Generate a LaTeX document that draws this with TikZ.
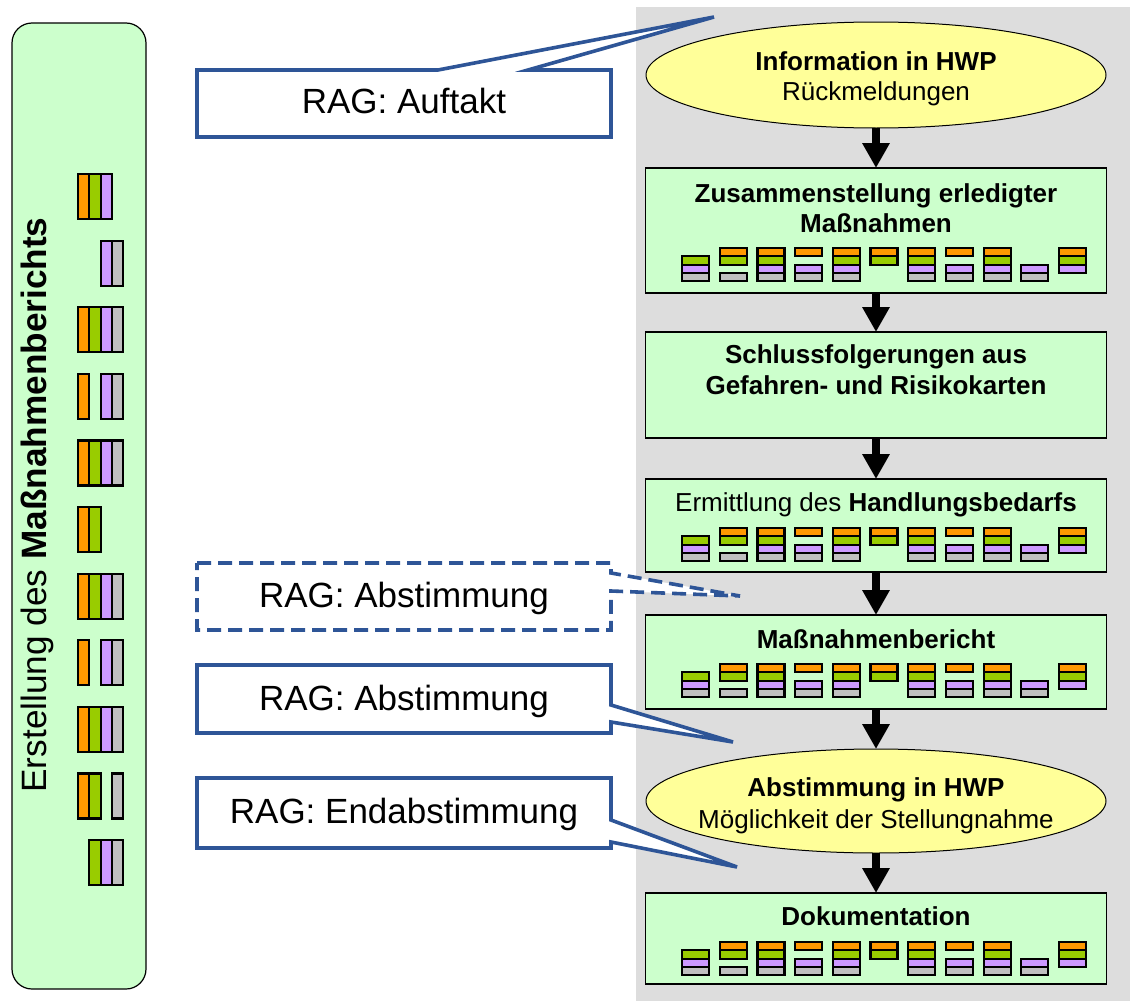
\documentclass[tikz,border=0pt]{standalone}
\usepackage{fontspec}
\setmainfont{Liberation Sans}
\usetikzlibrary{shapes.geometric,arrows.meta}
\definecolor{bggray}{HTML}{DDDDDD}
\definecolor{boxgreen}{HTML}{CCFFCC}
\definecolor{elyellow}{HTML}{FFFF99}
\definecolor{corange}{HTML}{FF9900}
\definecolor{cgreen}{HTML}{99CC00}
\definecolor{cpurple}{HTML}{CC99FF}
\definecolor{cgray}{HTML}{C0C0C0}
\definecolor{cblue}{HTML}{2E5597}
\tikzset{barc/.style={draw=black, line width=2.2pt}}
\newcommand{\hbarset}[1]{%
  \foreach \a/\b/\c/\d [count=\i from 0] in {0/1/1/1,1/1/0/1,1/1/1/1,1/0/1/1,1/1/1/1,1/1/0/0,1/1/1/1,1/0/1/1,1/1/1/1,0/0/1/1,1/1/1/0}{%
    \pgfmathsetmacro\gx{682+37.7*\i}%
    \ifnum\a=1 \draw[barc,fill=corange] (\gx,#1) rectangle ++(27,8.3);\fi
    \ifnum\b=1 \draw[barc,fill=cgreen] (\gx,#1+8.3) rectangle ++(27,8.3);\fi
    \ifnum\c=1 \draw[barc,fill=cpurple] (\gx,#1+16.6) rectangle ++(27,8.3);\fi
    \ifnum\d=1 \draw[barc,fill=cgray] (\gx,#1+24.9) rectangle ++(27,8.3);\fi
  }}
\begin{document}
\begin{tikzpicture}[x=1pt,y=-1pt,
 stepbox/.style={draw=black, line width=1.2pt, fill=boxgreen, rectangle, minimum width=461pt, inner sep=0pt, outer sep=0pt},
 hwp/.style={draw=black, line width=1pt, fill=elyellow, ellipse, minimum width=460pt, inner sep=0pt, outer sep=0pt},
 btext/.style={font=\fontsize{26}{30}\selectfont\bfseries, anchor=base, inner sep=0pt},
 ntext/.style={font=\fontsize{26}{30}\selectfont, anchor=base, inner sep=0pt},
 ctext/.style={font=\fontsize{35}{42}\selectfont, anchor=base, inner sep=0pt},
 callout/.style={draw=cblue, line width=3.6pt, fill=white},
 flow/.style={draw=black, line width=7.5pt, -{Triangle[width=26pt,length=25pt]}},
]
\useasboundingbox (0,0) rectangle (1130,1001);
\fill[bggray] (636,7) rectangle (1130,1001);

% left panel
\node[draw=black, line width=1.2pt, fill=boxgreen, rounded corners=20pt, minimum width=134pt, minimum height=966pt, inner sep=0pt] (panel) at (79,506) {};
\node[font=\fontsize{35.2}{42}\selectfont, rotate=90, anchor=base, inner sep=0pt] (ptext) at (46,505) {Erstellung des \textbf{Maßnahmenberichts}};
\foreach \a/\b/\c/\d [count=\j from 0] in {1/1/1/0,0/0/1/1,1/1/1/1,1/0/1/1,1/1/1/1,1/1/0/0,1/1/1/1,1/0/1/1,1/1/1/1,1/1/0/1,0/1/1/1}{%
  \pgfmathsetmacro\gy{174+66.6*\j}%
  \ifnum\a=1 \draw[barc,fill=corange] (78,\gy) rectangle ++(11.3,45);\fi
  \ifnum\b=1 \draw[barc,fill=cgreen] (89.3,\gy) rectangle ++(11.3,45);\fi
  \ifnum\c=1 \draw[barc,fill=cpurple] (100.6,\gy) rectangle ++(11.3,45);\fi
  \ifnum\d=1 \draw[barc,fill=cgray] (111.9,\gy) rectangle ++(11.3,45);\fi
}

% flow nodes
\node[hwp, minimum height=106pt] (e1) at (876,75) {};
\node[stepbox, minimum height=125pt] (b2) at (876,230.5) {};
\node[stepbox, minimum height=106pt] (b3) at (876,385) {};
\node[stepbox, minimum height=93pt] (b4) at (876,525.5) {};
\node[stepbox, minimum height=94pt] (b5) at (876,662) {};
\node[hwp, minimum height=104pt] (e2) at (876,801) {};
\node[stepbox, minimum height=91pt] (b6) at (876,938.5) {};

\node[btext] (t1a) at (876,70) {Information in HWP};
\node[ntext] (t1b) at (876,100) {Rückmeldungen};
\node[btext] (t2a) at (876,202) {Zusammenstellung erledigter};
\node[btext] (t2b) at (876,232) {Maßnahmen};
\node[btext] (t3a) at (876,363) {Schlussfolgerungen aus};
\node[btext] (t3b) at (876,394) {Gefahren- und Risikokarten};
\node[ntext] (t4) at (876,511) {Ermittlung des \textbf{Handlungsbedarfs}};
\node[btext] (t5) at (876,648) {Maßnahmenbericht};
\node[btext] (t6a) at (876,796) {Abstimmung in HWP};
\node[ntext] (t6b) at (876,828) {Möglichkeit der Stellungnahme};
\node[btext] (t7) at (876,925) {Dokumentation};

\hbarset{248}
\hbarset{528}
\hbarset{664}
\hbarset{942}

\draw[flow] (e1.south) -- (b2.north);
\draw[flow] (b2.south) -- (b3.north);
\draw[flow] (b3.south) -- (b4.north);
\draw[flow] (b4.south) -- (b5.north);
\draw[flow] (b5.south) -- (e2.north);
\draw[flow] (e2.south) -- (b6.north);

% callouts
\coordinate (p1) at (714,17);
\coordinate (p2) at (740,596);
\coordinate (p3) at (733,742);
\coordinate (p4) at (737,867);
\draw[callout] (197,70) -- (438,70) -- (p1) -- (528,70) -- (611,70) -- (611,137) -- (197,137) -- cycle;
\node[ctext] (c1) at (404,113) {RAG: Auftakt};
\draw[callout, dash pattern=on 14pt off 7pt] (197,563) -- (611,563) -- (611,573) -- (p2) -- (611,591) -- (611,630) -- (197,630) -- cycle;
\node[ctext] (c2) at (404,607) {RAG: Abstimmung};
\draw[callout] (197,665) -- (611,665) -- (611,705) -- (p3) -- (611,722) -- (611,733) -- (197,733) -- cycle;
\node[ctext] (c3) at (404,710) {RAG: Abstimmung};
\draw[callout] (197,778) -- (611,778) -- (611,820) -- (p4) -- (611,842) -- (611,848) -- (197,848) -- cycle;
\node[ctext] (c4) at (404,823) {RAG: Endabstimmung};
\end{tikzpicture}
\end{document}
